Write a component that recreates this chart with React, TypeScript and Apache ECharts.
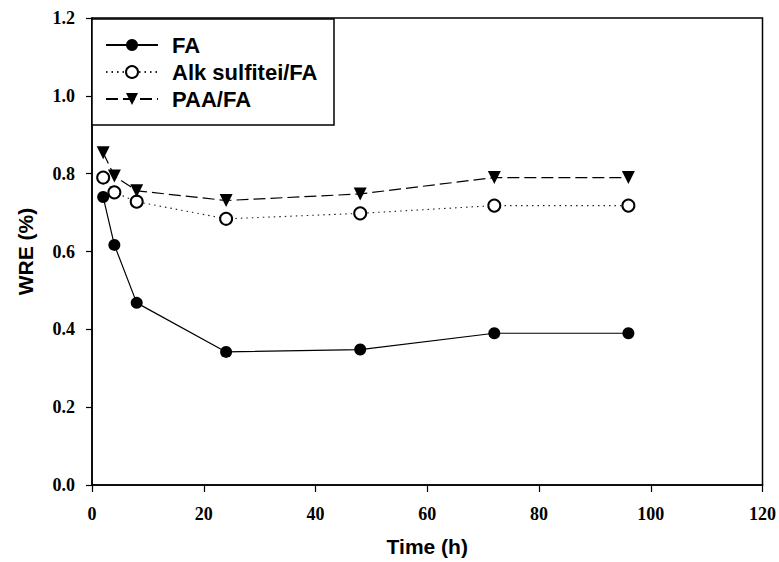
import React, { useEffect, useRef } from "react";
import * as echarts from "echarts";

const times = [2, 4, 8, 24, 48, 72, 96];
const faValues = [0.74, 0.617, 0.468, 0.342, 0.348, 0.39, 0.39];
const alkValues = [0.79, 0.752, 0.728, 0.684, 0.698, 0.718, 0.718];
const paaValues = [0.854, 0.794, 0.756, 0.731, 0.748, 0.79, 0.79];
const seriesNames = ["FA", "Alk sulfitei/FA", "PAA/FA"];

const toPairs = (vals: number[]) => times.map((t, i) => [t, vals[i]]);

export default function App() {
  const ref = useRef<HTMLDivElement>(null);
  useEffect(() => {
    if (!ref.current) return;
    const chart = echarts.init(ref.current, null, { renderer: "svg" });
    const serif = "'Liberation Serif', 'Times New Roman', serif";
    const sans = "'Liberation Sans', Arial, sans-serif";
    chart.setOption({
      animation: false,
      backgroundColor: "#fff",
      grid: {
        left: 92,
        right: 14,
        top: 18,
        bottom: 77,
        show: true,
        borderColor: "#000",
        borderWidth: 1.5,
      },
      xAxis: {
        type: "value",
        min: 0,
        max: 120,
        interval: 20,
        name: "Time (h)",
        nameLocation: "middle",
        nameGap: 51,
        nameTextStyle: { fontFamily: sans, fontWeight: "bold", fontSize: 21, color: "#000" },
        axisLine: { show: true, lineStyle: { color: "#000", width: 1.5 } },
        axisTick: { show: true, inside: false, length: 7, lineStyle: { color: "#000", width: 1.2 } },
        axisLabel: { margin: 20, fontFamily: serif, fontWeight: "bold", fontSize: 18, color: "#000" },
        splitLine: { show: false },
      },
      yAxis: {
        type: "value",
        min: 0,
        max: 1.2,
        interval: 0.2,
        name: "WRE (%)",
        nameLocation: "middle",
        nameGap: 56,
        nameTextStyle: { fontFamily: sans, fontWeight: "bold", fontSize: 21, color: "#000" },
        axisLine: { show: true, lineStyle: { color: "#000", width: 1.5 } },
        axisTick: { show: true, inside: false, length: 6, lineStyle: { color: "#000", width: 1.2 } },
        axisLabel: {
          margin: 17,
          fontFamily: serif,
          fontWeight: "bold",
          fontSize: 18,
          color: "#000",
          formatter: (v: number) => v.toFixed(1),
        },
        splitLine: { show: false },
      },
      graphic: [
        {
          type: "rect",
          z: 50,
          shape: { x: 92, y: 19, width: 242, height: 106 },
          style: { fill: "#fff", stroke: "#000", lineWidth: 1.5 },
        },
      ],
      legend: {
        data: seriesNames,
        orient: "vertical",
        left: 105,
        top: 34,
        padding: 0,
        itemWidth: 52,
        itemHeight: 15,
        itemGap: 5,
        z: 60,
        textStyle: {
          fontFamily: sans,
          fontWeight: "bold",
          fontSize: 22,
          lineHeight: 22,
          color: "#000",
          padding: [0, 0, 0, 9],
        },
      },
      series: [
        {
          name: seriesNames[0],
          type: "line",
          data: toPairs(faValues),
          symbol: "circle",
          symbolSize: 12,
          itemStyle: { color: "#000" },
          lineStyle: { color: "#000", width: 1.2, type: "solid" },
        },
        {
          name: seriesNames[1],
          type: "line",
          data: toPairs(alkValues),
          symbol: "emptyCircle",
          symbolSize: 12,
          itemStyle: { color: "#000", borderColor: "#000", borderWidth: 1.5 },
          lineStyle: { color: "#222", width: 1.1, type: [1.5, 4] },
        },
        {
          name: seriesNames[2],
          type: "line",
          data: toPairs(paaValues),
          symbol: "triangle",
          symbolRotate: 180,
          symbolSize: 13,
          itemStyle: { color: "#000" },
          lineStyle: { color: "#000", width: 1.2, type: [12, 5] },
        },
      ],
    });
    return () => chart.dispose();
  }, []);
  return (
    <div
      ref={ref}
      style={{ position: "absolute", left: 0, top: 0, width: 779, height: 562 }}
    />
  );
}
